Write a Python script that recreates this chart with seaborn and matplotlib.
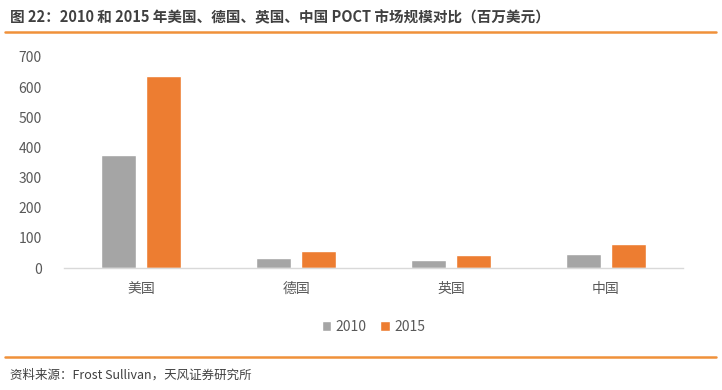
import matplotlib
matplotlib.use("Agg")
import matplotlib.pyplot as plt
import seaborn as sns
import pandas as pd

categories = ["美国", "德国", "英国", "中国"]
years = ["2010", "2015"]
values_2010 = [375, 33, 26, 46]
values_2015 = [637, 57, 43, 79]
yticks = [0, 100, 200, 300, 400, 500, 600, 700]

title = "图 22：2010 和 2015 年美国、德国、英国、中国 POCT 市场规模对比（百万美元）"
source = "资料来源：Frost Sullivan，天风证券研究所"

df = pd.DataFrame({
    "国家": categories * 2,
    "年份": [years[0]] * 4 + [years[1]] * 4,
    "值": values_2010 + values_2015,
})

sns.set_theme(style="white")
plt.rcParams["font.family"] = ["Noto Sans CJK SC", "DejaVu Sans"]

fig = plt.figure(figsize=(7.22, 3.90), dpi=100)
ax = fig.add_axes([64 / 722, (390 - 268) / 390, (683 - 64) / 722, (268 - 57) / 390])

palette = {"2010": "#A5A5A5", "2015": "#ED7D31"}
sns.barplot(data=df, x="国家", y="值", hue="年份", order=categories,
            hue_order=years, palette=palette, width=0.58, gap=0.22,
            saturation=1, ax=ax, legend=True)

ax.set_ylim(0, 700)
ax.set_yticks(yticks)
ax.set_yticklabels([str(t) for t in yticks])
ax.set_xlim(-0.5, 3.5)
ax.set_xlabel("")
ax.set_ylabel("")
for s in ["top", "right", "left"]:
    ax.spines[s].set_visible(False)
ax.spines["bottom"].set_color("#D9D9D9")
ax.spines["bottom"].set_linewidth(1)
ax.tick_params(axis="both", length=0, labelsize=10, colors="#595959")
ax.tick_params(axis="y", pad=16)
ax.tick_params(axis="x", pad=10)

leg = ax.legend(loc="upper center", bbox_to_anchor=(0.5, -0.185), ncol=2, frameon=False,
                fontsize=10, handlelength=0.7, handleheight=0.7, handletextpad=0.3,
                columnspacing=1.0)
for t in leg.get_texts():
    t.set_color("#595959")

fig.text(10 / 722, 1 - 17 / 390, title, fontsize=10.5, fontweight="bold",
         color="#404040", va="center", ha="left")
fig.add_artist(plt.Line2D([5 / 722, 716 / 722], [1 - 32 / 390, 1 - 32 / 390],
                          color="#F0913A", linewidth=1.8, transform=fig.transFigure))
fig.add_artist(plt.Line2D([5 / 722, 716 / 722], [1 - 357 / 390, 1 - 357 / 390],
                          color="#F0913A", linewidth=1.8, transform=fig.transFigure))
fig.text(10 / 722, 1 - 375 / 390, source, fontsize=9, color="#404040",
         va="center", ha="left")

fig.savefig("out.png", dpi=100)
